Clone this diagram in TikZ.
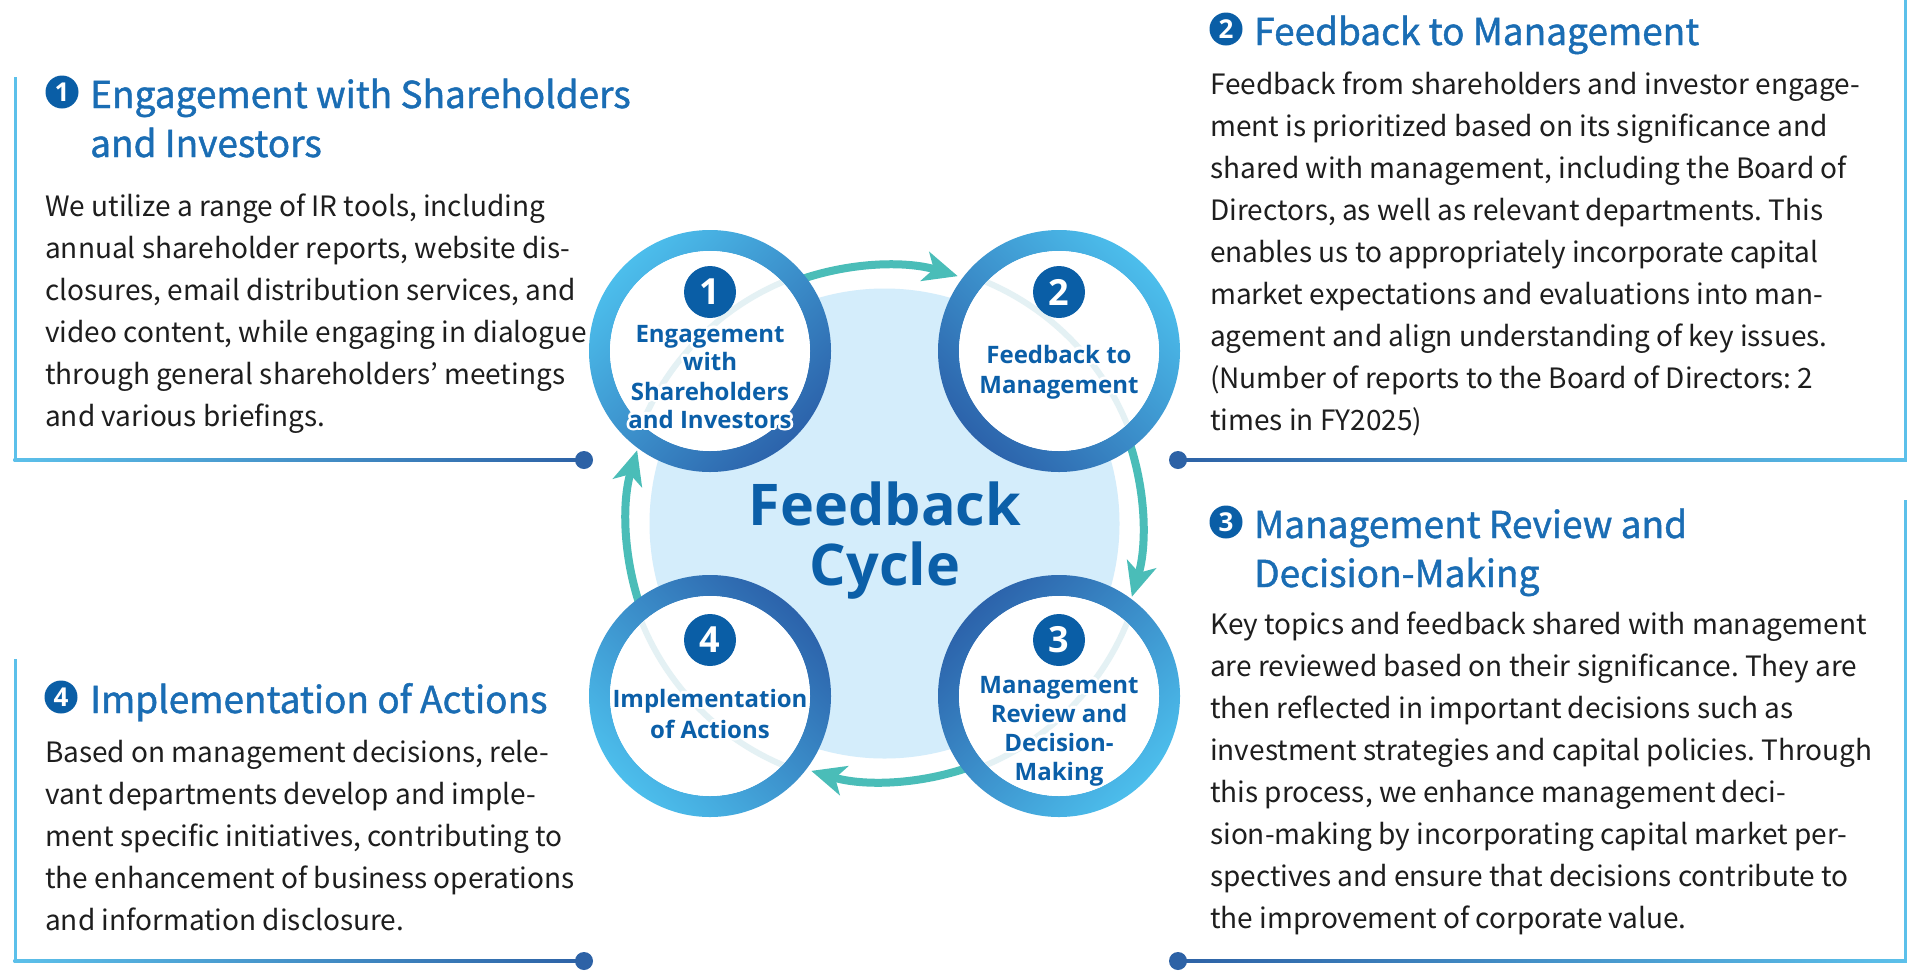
\documentclass[tikz,border=0pt]{standalone}
\usepackage{fontspec}
\setmainfont{Noto Sans CJK JP}
\newfontfamily\titlefont{Noto Sans CJK JP}[FakeBold=1.2]
\IfFontExistsTF{Noto Sans Bold}{\newfontfamily\boldsans{Noto Sans Bold}}{%
  \IfFontExistsTF{Open Sans Bold}{\newfontfamily\boldsans{Open Sans Bold}}{%
    \newfontfamily\boldsans{Noto Sans}[FakeBold=3]}}
\usetikzlibrary{arrows.meta,calc}
\definecolor{titleblue}{HTML}{1A6DB4}
\definecolor{circtext}{HTML}{0B5FA8}
\definecolor{badge}{HTML}{0A5EA6}
\definecolor{ringlight}{HTML}{4CBEEC}
\definecolor{ringdark}{HTML}{2C63AB}
\definecolor{disc}{HTML}{D4EDFB}
\definecolor{cycteal}{HTML}{4ABDB8}
\definecolor{linelight}{HTML}{5CC0EA}
\definecolor{linedark}{HTML}{2D62A6}
\definecolor{faint}{HTML}{E4F1F4}
\definecolor{bodytext}{HTML}{1E1E1E}
\tikzset{
  body/.style={anchor=base west, inner sep=0pt, text=bodytext, font=\fontsize{28}{42}\selectfont},
  ttl/.style={anchor=base west, inner sep=0pt, text=titleblue, font=\titlefont\fontsize{37}{49}\selectfont},
  tbadge/.style={circle, fill=badge, text=white, inner sep=0pt, minimum size=33pt, font=\boldsans\fontsize{26}{26}\selectfont},
  cbadge/.style={circle, fill=badge, text=white, inner sep=0pt, minimum size=52pt, font=\boldsans\fontsize{36}{36}\selectfont},
  ctext/.style={anchor=base, inner sep=0pt, text=circtext, font=\boldsans\fontsize{24}{29}\selectfont},
  fc/.style={anchor=base, inner sep=0pt, text=circtext, font=\boldsans\fontsize{57.5}{61}\selectfont},
  dotnode/.style={circle, fill=linedark, inner sep=0pt, minimum size=18pt},
  cyc/.style={draw=cycteal, line width=8pt, -{Stealth[length=34pt,width=30pt,inset=9pt]}},
}
\newcommand\halolabel[3]{%
  \foreach \a [count=\k] in {0,22.5,...,337.5}{\node[ctext, text=white] (#1h\k) at ($(#2)+(\a:2.6)$) {#3};}
  \node[ctext] (#1) at (#2) {#3};}
\begin{document}
\frenchspacing
\begin{tikzpicture}[x=1pt,y=-1pt]
\fill[white] (0,0) rectangle (1920,978);
\useasboundingbox (0,0) rectangle (1920,978);
% centre
\coordinate (C) at (884.5,523.5);
\coordinate (c1) at (710,351);
\coordinate (c2) at (1059,351);
\coordinate (c3) at (1059,696);
\coordinate (c4) at (710,696);
\fill[disc] (C) circle (235);
% cycle arrows
\coordinate (a1s) at ($(C)+(-110:258)$);
\coordinate (a2s) at ($(C)+(-20:258)$);
\coordinate (a3s) at ($(C)+(70:258)$);
\coordinate (a4s) at ($(C)+(160:258)$);
\draw[cyc] (a1s) arc[start angle=-110, end angle=-73.5, radius=258];
\draw[cyc] (a2s) arc[start angle=-20, end angle=16.5, radius=258];
\draw[cyc] (a3s) arc[start angle=70, end angle=106.5, radius=258];
\draw[cyc] (a4s) arc[start angle=160, end angle=196.5, radius=258];
% rings
\shade[even odd rule, top color=ringlight, bottom color=ringdark, shading angle=45] (c1) circle (121) (c1) circle (100);
\shade[even odd rule, top color=ringlight, bottom color=ringdark, shading angle=-45] (c2) circle (121) (c2) circle (100);
\shade[even odd rule, top color=ringdark, bottom color=ringlight, shading angle=45] (c3) circle (121) (c3) circle (100);
\shade[even odd rule, top color=ringdark, bottom color=ringlight, shading angle=-45] (c4) circle (121) (c4) circle (100);
\foreach \c in {c1,c2,c3,c4}{
  \fill[white] (\c) circle (100);
  \begin{scope}
    \clip (\c) circle (100);
    \draw[faint, line width=6pt] (C) circle (262);
  \end{scope}
}
\node[cbadge] (n1) at (710,292) {1};
\node[cbadge] (n2) at (1059,292) {2};
\node[cbadge] (n3) at (1059,640) {3};
\node[cbadge] (n4) at (710,640) {4};
\halolabel{l1a}{710,342}{Engagement}
\halolabel{l1b}{710,370}{with}
\halolabel{l1c}{710,400}{Shareholders}
\halolabel{l1d}{710,428}{and Investors}
\halolabel{l2a}{1059,363}{Feedback to}
\halolabel{l2b}{1059,393}{Management}
\halolabel{l3a}{1059,693}{Management}
\halolabel{l3b}{1059,722}{Review and}
\halolabel{l3c}{1059,751}{Decision-}
\halolabel{l3d}{1059,780}{Making}
\halolabel{l4a}{710,707}{Implementation}
\halolabel{l4b}{710,738}{of Actions}
\node[fc] (fb) at (885,525) {Feedback};
\node[fc] (cy) at (885,585) {Cycle};
% frame lines
\fill[linelight] (13.5,77) rectangle (16.5,461.5);
\shade[left color=linelight, right color=linedark] (13.5,458.5) rectangle (584,461.5);
\node[dotnode] (d1) at (584,460) {};
\fill[linelight] (1903.5,0) rectangle (1906.5,461.5);
\shade[left color=linedark, right color=linelight] (1178,458.5) rectangle (1906.5,461.5);
\node[dotnode] (d2) at (1178,460) {};
\fill[linelight] (1903.5,500) rectangle (1906.5,962.5);
\shade[left color=linedark, right color=linelight] (1178,959.5) rectangle (1906.5,962.5);
\node[dotnode] (d3) at (1178,961) {};
\fill[linelight] (13.5,659) rectangle (16.5,962.5);
\shade[left color=linelight, right color=linedark] (13.5,959.5) rectangle (584,962.5);
\node[dotnode] (d4) at (584,961) {};
% titles
\node[tbadge] (b1) at (62,92) {1};
\node[ttl] (t1a) at (90,108) {Engagement with Shareholders};
\node[ttl] (t1b) at (90,157) {and Investors};
\node[tbadge] (b2) at (1226,29) {2};
\node[ttl] (t2a) at (1254,45) {Feedback to Management};
\node[tbadge] (b3) at (1226,522) {3};
\node[ttl] (t3a) at (1254,538) {Management Review and};
\node[ttl] (t3b) at (1254,587) {Decision-Making};
\node[tbadge] (b4) at (61,697) {4};
\node[ttl] (t4a) at (90,713) {Implementation of Actions};
% bodies
\foreach \t [count=\i from 0] in {{We utilize a range of IR tools, including},{annual shareholder reports, website dis-},{closures, email distribution services, and},{video content, while engaging in dialogue},{through general shareholders’ meetings},{and various briefings.}}
  \node[body] (p1-\i) at (45,216+42*\i) {\t};
\foreach \t [count=\i from 0] in {{Feedback from shareholders and investor engage-},{ment is prioritized based on its significance and},{shared with management, including the Board of},{Directors, as well as relevant departments. This},{enables us to appropriately incorporate capital},{market expectations and evaluations into man-},{agement and align understanding of key issues.},{(Number of reports to the Board of Directors: 2},{times in FY2025)}}
  \node[body] (p2-\i) at (1210,94+42*\i) {\t};
\foreach \t [count=\i from 0] in {{Key topics and feedback shared with management},{are reviewed based on their significance. They are},{then reflected in important decisions such as},{investment strategies and capital policies. Through},{this process, we enhance management deci-},{sion-making by incorporating capital market per-},{spectives and ensure that decisions contribute to},{the improvement of corporate value.}}
  \node[body] (p3-\i) at (1210,634+42*\i) {\t};
\foreach \t [count=\i from 0] in {{Based on management decisions, rele-},{vant departments develop and imple-},{ment specific initiatives, contributing to},{the enhancement of business operations},{and information disclosure.}}
  \node[body] (p4-\i) at (45,762+42*\i) {\t};
\end{tikzpicture}
\end{document}
